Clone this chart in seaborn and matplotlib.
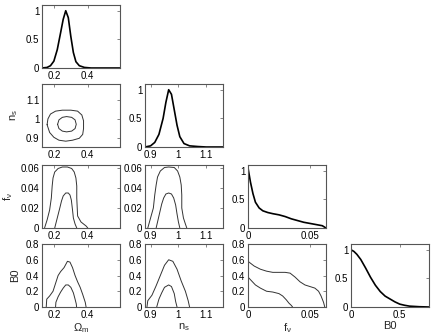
import numpy as np
import matplotlib
matplotlib.use("Agg")
import matplotlib.pyplot as plt
import seaborn as sns

sns.set_style("white")
plt.rcParams['font.family'] = ['Liberation Sans', 'DejaVu Sans']
plt.rcParams['mathtext.fontset'] = 'custom'
plt.rcParams['mathtext.rm'] = 'Liberation Sans'
plt.rcParams['mathtext.it'] = 'Liberation Sans'

# 1D marginals
om_x = [0.13, 0.16, 0.18, 0.20, 0.22, 0.24, 0.255, 0.27, 0.285, 0.30, 0.315, 0.33, 0.35, 0.38, 0.42, 0.59]
om_p = [0.0, 0.01, 0.04, 0.12, 0.32, 0.62, 0.85, 1.0, 0.88, 0.55, 0.27, 0.11, 0.04, 0.01, 0.0, 0.0]
ns_x = [0.88, 0.90, 0.915, 0.93, 0.945, 0.955, 0.965, 0.975, 0.985, 0.995, 1.005, 1.02, 1.04, 1.07, 1.10, 1.16]
ns_p = [0.0, 0.02, 0.08, 0.22, 0.5, 0.78, 1.0, 0.92, 0.65, 0.38, 0.18, 0.06, 0.02, 0.008, 0.0, 0.0]
fn_x = [0, 0.002, 0.004, 0.006, 0.009, 0.012, 0.016, 0.02, 0.025, 0.03, 0.035, 0.04, 0.045, 0.05, 0.055, 0.06, 0.063]
fn_p = [1.05, 0.8, 0.6, 0.45, 0.35, 0.3, 0.27, 0.25, 0.23, 0.2, 0.16, 0.13, 0.1, 0.08, 0.06, 0.04, 0.0]
b0_x = [0, 0.03, 0.06, 0.1, 0.15, 0.2, 0.25, 0.3, 0.35, 0.4, 0.45, 0.5, 0.55, 0.6, 0.7, 0.8]
b0_p = [1.0, 0.97, 0.92, 0.83, 0.68, 0.52, 0.38, 0.27, 0.19, 0.14, 0.09, 0.05, 0.03, 0.015, 0.005, 0.0]

# 2D contours (outer = 95%, inner = 68%)
om_ns_out_x = [0.16, 0.165, 0.18, 0.21, 0.25, 0.30, 0.34, 0.365, 0.375, 0.375, 0.37, 0.35, 0.31, 0.27, 0.23, 0.20, 0.175, 0.16]
om_ns_out_y = [0.97, 1.0, 1.025, 1.04, 1.045, 1.045, 1.04, 1.02, 0.99, 0.95, 0.92, 0.90, 0.89, 0.885, 0.89, 0.905, 0.93, 0.97]
om_ns_in_x = [0.222, 0.23, 0.25, 0.275, 0.305, 0.325, 0.332, 0.325, 0.305, 0.275, 0.25, 0.23, 0.222]
om_ns_in_y = [0.972, 0.995, 1.008, 1.012, 1.008, 0.995, 0.972, 0.95, 0.937, 0.933, 0.937, 0.95, 0.972]

om_fn_out_x = [0.145, 0.16, 0.175, 0.185, 0.19, 0.195, 0.205, 0.225, 0.25, 0.28, 0.305, 0.32, 0.33, 0.335, 0.335, 0.34, 0.36, 0.39, 0.40]
om_fn_out_y = [0, 0.008, 0.018, 0.03, 0.042, 0.05, 0.056, 0.0595, 0.061, 0.061, 0.0595, 0.056, 0.05, 0.042, 0.03, 0.012, 0.006, 0.002, 0]
om_fn_in_x = [0.205, 0.22, 0.235, 0.245, 0.255, 0.27, 0.285, 0.295, 0.303, 0.31, 0.315, 0.325, 0.335]
om_fn_in_y = [0, 0.01, 0.02, 0.027, 0.032, 0.035, 0.035, 0.033, 0.028, 0.018, 0.01, 0.004, 0]

ns_fn_out_x = [0.89, 0.90, 0.91, 0.915, 0.92, 0.925, 0.935, 0.95, 0.965, 0.985, 0.997, 1.005, 1.01, 1.012, 1.012, 1.018, 1.025, 1.03]
ns_fn_out_y = [0, 0.01, 0.02, 0.033, 0.043, 0.051, 0.057, 0.0605, 0.061, 0.0605, 0.057, 0.051, 0.043, 0.033, 0.02, 0.01, 0.004, 0]
ns_fn_in_x = [0.92, 0.93, 0.94, 0.947, 0.955, 0.965, 0.975, 0.983, 0.99, 0.995, 1.0, 1.005]
ns_fn_in_y = [0, 0.012, 0.024, 0.03, 0.034, 0.035, 0.034, 0.03, 0.023, 0.014, 0.006, 0]

om_b0_out_x = [0.155, 0.158, 0.175, 0.195, 0.21, 0.225, 0.24, 0.26, 0.28, 0.295, 0.31, 0.325, 0.34, 0.355, 0.37, 0.385, 0.39]
om_b0_out_y = [0, 0.1, 0.14, 0.2, 0.3, 0.4, 0.45, 0.5, 0.58, 0.57, 0.5, 0.4, 0.32, 0.25, 0.16, 0.06, 0]
om_b0_in_x = [0.21, 0.212, 0.225, 0.24, 0.255, 0.27, 0.285, 0.3, 0.315, 0.325, 0.332, 0.334]
om_b0_in_y = [0, 0.06, 0.13, 0.19, 0.24, 0.28, 0.28, 0.25, 0.18, 0.1, 0.04, 0]

ns_b0_out_x = [0.887, 0.89, 0.905, 0.92, 0.935, 0.95, 0.965, 0.98, 0.995, 1.01, 1.025, 1.035, 1.04]
ns_b0_out_y = [0, 0.08, 0.15, 0.27, 0.4, 0.53, 0.6, 0.58, 0.48, 0.33, 0.2, 0.08, 0]
ns_b0_in_x = [0.922, 0.93, 0.94, 0.95, 0.965, 0.975, 0.985, 0.99, 0.995]
ns_b0_in_y = [0, 0.1, 0.18, 0.25, 0.28, 0.26, 0.17, 0.07, 0]

fn_b0_out_x = [0, 0.005, 0.01, 0.015, 0.02, 0.025, 0.03, 0.034, 0.038, 0.042, 0.046, 0.05, 0.054, 0.057, 0.059, 0.061, 0.062]
fn_b0_out_y = [0.58, 0.52, 0.48, 0.455, 0.44, 0.44, 0.44, 0.43, 0.38, 0.32, 0.28, 0.26, 0.24, 0.2, 0.14, 0.06, 0]
fn_b0_in_x = [0, 0.003, 0.006, 0.01, 0.015, 0.02, 0.025, 0.028, 0.031, 0.033, 0.035, 0.036]
fn_b0_in_y = [0.38, 0.33, 0.28, 0.24, 0.2, 0.19, 0.17, 0.14, 0.09, 0.05, 0.02, 0]

names = [r'$\mathregular{\Omega_m}$', r'$\mathregular{n_s}$', r'$\mathregular{f_\nu}$', 'B0']
lims = [(0.13, 0.59), (0.88, 1.16), (0, 0.063), (0, 0.8)]
ns_row_lim = (0.855, 1.18)
ticks = [[0.2, 0.4], [0.9, 1.0, 1.1], [0, 0.05], [0, 0.5]]
yticks = [None, [0.9, 1.0, 1.1], [0, 0.02, 0.04, 0.06], [0, 0.2, 0.4, 0.6, 0.8]]

fig = plt.figure(figsize=(4.32, 3.35), dpi=100)
lefts = [42 / 432, 145 / 432, 248 / 432, 351 / 432]
bottoms = [1 - 68 / 335, 1 - 147 / 335, 1 - 228 / 335, 1 - 307 / 335]
w, h = 78 / 432, 63 / 335


def style(ax, xi, yi, diag):
    ax.set_xlim(*lims[xi])
    ax.set_xticks(ticks[xi])
    ax.set_xticklabels(['%g' % t for t in ticks[xi]])
    if diag:
        ax.set_ylim(0, 1.1)
        ax.set_yticks([0, 0.5, 1])
        ax.set_yticklabels(['0', '0.5', '1'])
    else:
        ax.set_ylim(*(ns_row_lim if yi == 1 else lims[yi]))
        ax.set_yticks(yticks[yi])
        ax.set_yticklabels(['%g' % t for t in yticks[yi]])
    ax.tick_params(direction='in', length=2, width=0.5, labelsize=7, pad=2,
                   top=True, right=True, colors='#555555', labelcolor='black')
    for sp in ax.spines.values():
        sp.set_color('#555555')
        sp.set_linewidth(0.8)
    ax.set_xlabel('')
    ax.set_ylabel('')


marg = [(om_x, om_p), (ns_x, ns_p), (fn_x, fn_p), (b0_x, b0_p)]
pairs = {
    (1, 0): [(om_ns_out_x, om_ns_out_y), (om_ns_in_x, om_ns_in_y)],
    (2, 0): [(om_fn_out_x, om_fn_out_y), (om_fn_in_x, om_fn_in_y)],
    (2, 1): [(ns_fn_out_x, ns_fn_out_y), (ns_fn_in_x, ns_fn_in_y)],
    (3, 0): [(om_b0_out_x, om_b0_out_y), (om_b0_in_x, om_b0_in_y)],
    (3, 1): [(ns_b0_out_x, ns_b0_out_y), (ns_b0_in_x, ns_b0_in_y)],
    (3, 2): [(fn_b0_out_x, fn_b0_out_y), (fn_b0_in_x, fn_b0_in_y)],
}

for r in range(4):
    for c in range(r + 1):
        ax = fig.add_axes([lefts[c], bottoms[r], w, h])
        if r == c:
            x, y = marg[r]
            sns.lineplot(x=x, y=y, ax=ax, color='black', linewidth=1.2,
                         sort=False, estimator=None)
            style(ax, c, r, True)
        else:
            for x, y in pairs[(r, c)]:
                sns.lineplot(x=x, y=y, ax=ax, color='#333333', linewidth=0.7,
                             sort=False, estimator=None)
            style(ax, c, r, False)
            if c == 0:
                ax.set_ylabel(names[r], fontsize=8, labelpad=4)
        if r == 3:
            ax.set_xlabel(names[c], fontsize=8, labelpad=1)

fig.savefig('out.png', dpi=100)
